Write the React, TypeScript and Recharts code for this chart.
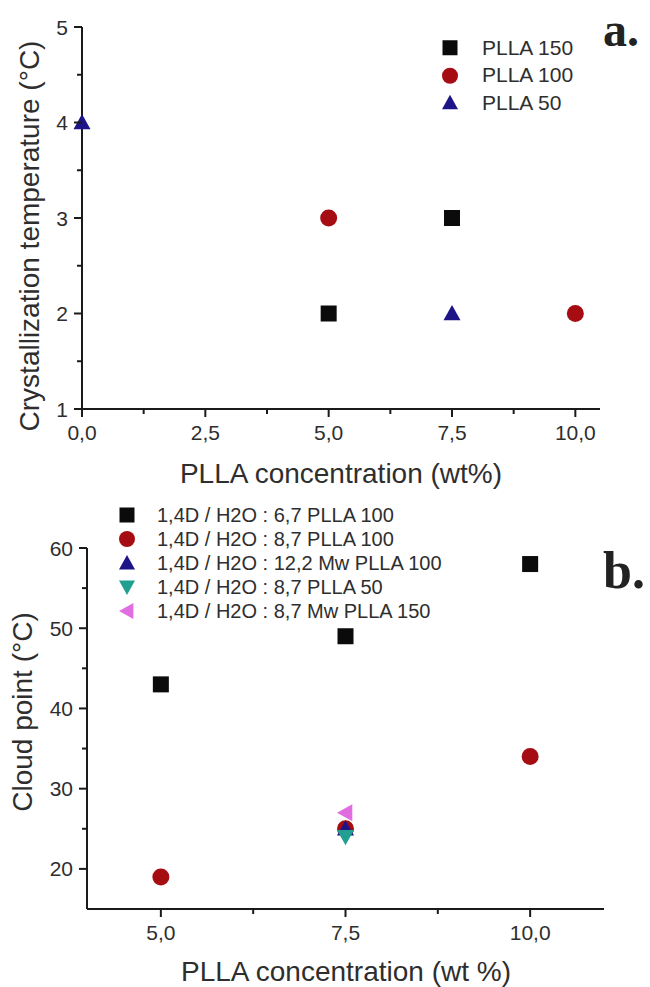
import { ScatterChart, Scatter, XAxis, YAxis, Legend, Label } from 'recharts';

const TEXT = '#2e2e2e';
const AXIS = '#1a1a1a';
const SANS = '"Liberation Sans", Arial, sans-serif';
const SERIF = '"Liberation Serif", "Times New Roman", serif';

const BLACK = '#0b0b0b';
const RED = '#a50d12';
const NAVY = '#1d1488';
const TEAL = '#21a091';
const PINK = '#e06ee0';

// panel a: crystallization temperature
const aPlla150 = [{ x: 5, y: 2 }, { x: 7.5, y: 3 }];
const aPlla100 = [{ x: 5, y: 3 }, { x: 10, y: 2 }];
const aPlla50 = [{ x: 0, y: 4 }, { x: 7.5, y: 2 }];
const aXTicks = [0, 1.25, 2.5, 3.75, 5, 6.25, 7.5, 8.75, 10];
const aXMajor = [0, 2.5, 5, 7.5, 10];
const aXLabels = ['0,0', '2,5', '5,0', '7,5', '10,0'];
const aYTicks = [1, 1.5, 2, 2.5, 3, 3.5, 4, 4.5, 5];
const aYMajor = [1, 2, 3, 4, 5];
const aYLabels = ['1', '2', '3', '4', '5'];

// panel b: cloud point
const bD67P100 = [{ x: 5, y: 43 }, { x: 7.5, y: 49 }, { x: 10, y: 58 }];
const bD87P100 = [{ x: 5, y: 19 }, { x: 7.5, y: 25 }, { x: 10, y: 34 }];
const bD122P100 = [{ x: 7.5, y: 25 }];
const bD87P50 = [{ x: 7.5, y: 24 }];
const bD87P150 = [{ x: 7.5, y: 27 }];
const bXTicks = [5, 6.25, 7.5, 8.75, 10];
const bXMajor = [5, 7.5, 10];
const bXLabels = ['5,0', '7,5', '10,0'];
const bYTicks = [20, 25, 30, 35, 40, 45, 50, 55, 60];
const bYMajor = [20, 30, 40, 50, 60];
const bYLabels = ['20', '30', '40', '50', '60'];

const aSeries = [
  { name: 'PLLA 150', data: aPlla150, color: BLACK, shape: 'square' },
  { name: 'PLLA 100', data: aPlla100, color: RED, shape: 'circle' },
  { name: 'PLLA 50', data: aPlla50, color: NAVY, shape: 'up' },
];

const bSeries = [
  { name: '1,4D / H2O : 6,7 PLLA 100', data: bD67P100, color: BLACK, shape: 'square' },
  { name: '1,4D / H2O : 8,7 PLLA 100', data: bD87P100, color: RED, shape: 'circle' },
  { name: '1,4D / H2O : 12,2 Mw PLLA 100', data: bD122P100, color: NAVY, shape: 'up' },
  { name: '1,4D / H2O : 8,7 PLLA 50', data: bD87P50, color: TEAL, shape: 'down' },
  { name: '1,4D / H2O : 8,7 Mw PLLA 150', data: bD87P150, color: PINK, shape: 'left' },
];

const TICK = 8;
const MINOR = 5;
const X_MARGIN = 8;
const Y_MARGIN = 6;

function Marker({ cx, cy, kind, color, r = 8.5 }: any) {
  if (kind === 'square') return <rect x={cx - r + 0.5} y={cy - r + 0.5} width={2 * r - 1} height={2 * r - 1} fill={color} />;
  if (kind === 'circle') return <circle cx={cx} cy={cy} r={r} fill={color} />;
  const pts =
    kind === 'up'
      ? [[cx, cy - r], [cx + r, cy + r * 0.8], [cx - r, cy + r * 0.8]]
      : kind === 'down'
      ? [[cx, cy + r], [cx + r, cy - r * 0.8], [cx - r, cy - r * 0.8]]
      : [[cx - r, cy], [cx + r * 0.8, cy - r], [cx + r * 0.8, cy + r]];
  return <polygon points={pts.map((p) => p.join(',')).join(' ')} fill={color} />;
}

function XTick({ x, y, payload, majors, labels }: any) {
  const i = majors.indexOf(payload.value);
  const y0 = y - TICK - X_MARGIN;
  return (
    <g>
      <line x1={x} x2={x} y1={y0} y2={y0 + (i >= 0 ? TICK : MINOR)} stroke={AXIS} strokeWidth={2} />
      {i >= 0 && (
        <text x={x} y={y} dy="0.71em" textAnchor="middle" fontSize={21} fill={TEXT} fontFamily={SANS}>
          {labels[i]}
        </text>
      )}
    </g>
  );
}

function YTick({ x, y, payload, majors, labels }: any) {
  const i = majors.indexOf(payload.value);
  const x0 = x + TICK + Y_MARGIN;
  return (
    <g>
      <line x1={x0} x2={x0 - (i >= 0 ? TICK : MINOR)} y1={y} y2={y} stroke={AXIS} strokeWidth={2} />
      {i >= 0 && (
        <text x={x} y={y} dy="0.36em" textAnchor="end" fontSize={21} fill={TEXT} fontFamily={SANS}>
          {labels[i]}
        </text>
      )}
    </g>
  );
}

function LegendList({ items, rowH, fontSize, iconW, gap }: any) {
  return (
    <div style={{ fontFamily: SANS, fontSize, color: TEXT }}>
      {items.map((s: any) => (
        <div key={s.name} style={{ display: 'flex', alignItems: 'center', height: rowH, whiteSpace: 'nowrap' }}>
          <svg width={iconW} height={rowH} style={{ marginRight: gap }}>
            <Marker cx={iconW / 2} cy={rowH / 2} kind={s.shape} color={s.color} r={8} />
          </svg>
          <span>{s.name}</span>
        </div>
      ))}
    </div>
  );
}

const yTitle = (cx: number, cy: number, text: string) => () => (
  <text
    transform={`translate(${cx},${cy}) rotate(-90)`}
    textAnchor="middle"
    dominantBaseline="central"
    fontSize={28}
    fill={TEXT}
    fontFamily={SANS}
  >
    {text}
  </text>
);

const xTitle = (cx: number, baseline: number, text: string) => () => (
  <text x={cx} y={baseline} textAnchor="middle" fontSize={28} fill={TEXT} fontFamily={SANS}>
    {text}
  </text>
);

export default function App() {
  return (
    <div style={{ position: 'absolute', left: 0, top: 0, width: 650, height: 987, background: '#fff' }}>
      <div style={{ position: 'absolute', left: 0, top: 0 }}>
        <ScatterChart width={650} height={490} margin={{ top: 27, right: 50, bottom: 41, left: 22 }}>
          <XAxis
            type="number"
            dataKey="x"
            domain={[0, 10.5]}
            ticks={aXTicks}
            interval={0}
            height={40}
            tickSize={TICK}
            tickMargin={X_MARGIN}
            tickLine={false}
            axisLine={{ stroke: AXIS, strokeWidth: 2 }}
            tick={(p: any) => <XTick {...p} majors={aXMajor} labels={aXLabels} />}
          >
            <Label content={xTitle(341, 483, 'PLLA concentration (wt%)')} />
          </XAxis>
          <YAxis
            type="number"
            dataKey="y"
            domain={[1, 5]}
            ticks={aYTicks}
            interval={0}
            width={60}
            tickSize={TICK}
            tickMargin={Y_MARGIN}
            tickLine={false}
            axisLine={{ stroke: AXIS, strokeWidth: 2 }}
            tick={(p: any) => <YTick {...p} majors={aYMajor} labels={aYLabels} />}
          >
            <Label content={yTitle(29, 236, 'Crystallization temperature (°C)')} />
          </YAxis>
          <Legend
            layout="vertical"
            align="center"
            verticalAlign="middle"
            wrapperStyle={{ left: 434, top: 34, width: 160 }}
            content={() => <LegendList items={aSeries} rowH={27.5} fontSize={21} iconW={32} gap={16} />}
          />
          {aSeries.map((s) => (
            <Scatter
              key={s.name}
              name={s.name}
              data={s.data}
              fill={s.color}
              isAnimationActive={false}
              shape={(p: any) => <Marker cx={p.cx} cy={p.cy} kind={s.shape} color={s.color} />}
            />
          ))}
        </ScatterChart>
      </div>

      <div style={{ position: 'absolute', left: 0, top: 490 }}>
        <ScatterChart width={650} height={497} margin={{ top: 58, right: 46, bottom: 38, left: 27 }}>
          <XAxis
            type="number"
            dataKey="x"
            domain={[4, 11]}
            ticks={bXTicks}
            interval={0}
            height={40}
            tickSize={TICK}
            tickMargin={X_MARGIN}
            tickLine={false}
            axisLine={{ stroke: AXIS, strokeWidth: 2 }}
            tick={(p: any) => <XTick {...p} majors={bXMajor} labels={bXLabels} />}
          >
            <Label content={xTitle(346, 491, 'PLLA concentration (wt %)')} />
          </XAxis>
          <YAxis
            type="number"
            dataKey="y"
            domain={[15, 60]}
            ticks={bYTicks}
            interval={0}
            width={60}
            tickSize={TICK}
            tickMargin={Y_MARGIN}
            tickLine={false}
            axisLine={{ stroke: AXIS, strokeWidth: 2 }}
            tick={(p: any) => <YTick {...p} majors={bYMajor} labels={bYLabels} />}
          >
            <Label content={yTitle(22, 222, 'Cloud point (°C)')} />
          </YAxis>
          <Legend
            layout="vertical"
            align="center"
            verticalAlign="middle"
            wrapperStyle={{ left: 111, top: 13, width: 400 }}
            content={() => <LegendList items={bSeries} rowH={24} fontSize={20} iconW={32} gap={14} />}
          />
          {bSeries.map((s) => (
            <Scatter
              key={s.name}
              name={s.name}
              data={s.data}
              fill={s.color}
              isAnimationActive={false}
              shape={(p: any) => <Marker cx={p.cx} cy={p.cy} kind={s.shape} color={s.color} />}
            />
          ))}
        </ScatterChart>
      </div>

      <svg width={650} height={987} style={{ position: 'absolute', left: 0, top: 0, pointerEvents: 'none' }}>
        <text x={603} y={46} fontSize={48} fontWeight="bold" fontFamily={SERIF} fill="#222">
          a.
        </text>
        <text x={603} y={588} fontSize={52} fontWeight="bold" fontFamily={SERIF} fill="#222">
          b.
        </text>
      </svg>
    </div>
  );
}
